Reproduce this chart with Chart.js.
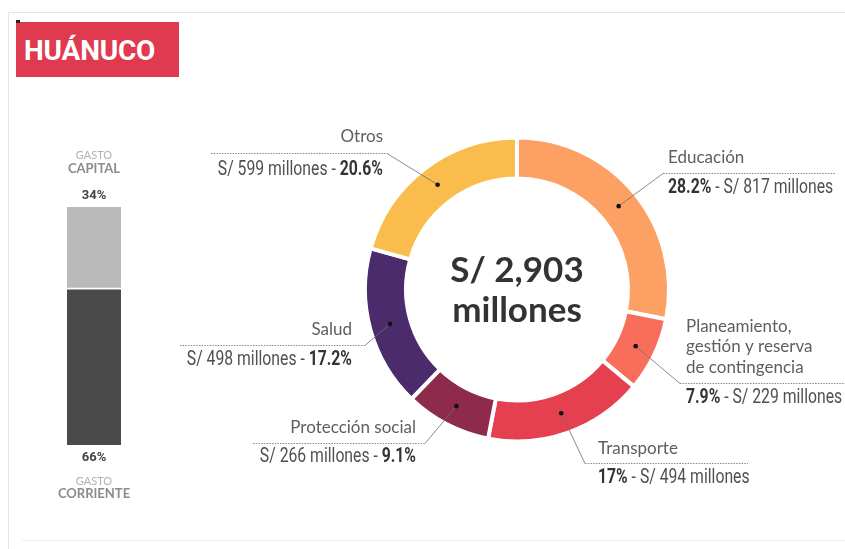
<!DOCTYPE html>
<html>
<head>
<meta charset="utf-8">
<script src="https://cdn.jsdelivr.net/npm/chart.js@4"></script>
<style>
  body { margin: 0; background: #fff; }
  #wrap { position: relative; width: 845px; height: 549px; overflow: hidden; }
  .frame { position: absolute; background: #e4e4e4; }
  #title {
    position: absolute; left: 16px; top: 22px; width: 163px; height: 55px;
    background: #e03a50; color: #fff; font: bold 28px Roboto, sans-serif;
    line-height: 57px; padding-left: 8px; box-sizing: border-box; letter-spacing: -0.2px;
  }
  #mark { position: absolute; left: 16px; top: 20px; width: 4px; height: 3px; background: #222; }
  canvas { position: absolute; left: 0; top: 0; }
</style>
</head>
<body>
<div id="wrap">
  <div class="frame" style="left:8px;top:12px;width:837px;height:1px"></div>
  <div class="frame" style="left:8px;top:12px;width:1px;height:537px"></div>
  <div class="frame" style="left:22px;top:540px;width:823px;height:1px;background:#efefef"></div>
  <div id="title">HUÁNUCO</div>
  <div id="mark"></div>
  <canvas id="barChart" width="130" height="370" style="left:30px;top:140px"></canvas>
  <canvas id="donutChart" width="845" height="549"></canvas>
</div>
<script>
// gasto por sector, en millones de soles
const sectores = ['Educación', 'Planeamiento,\ngestión y reserva\nde contingencia', 'Transporte', 'Protección social', 'Salud', 'Otros'];
const montos = [817, 229, 494, 266, 498, 599];
const porcentajes = [28.2, 7.9, 17, 9.1, 17.2, 20.6];
const colores = ['#fca064', '#f96e5b', '#e5404f', '#8e2a4b', '#4b2b6b', '#fabd4d'];
const totalMillones = '2,903';

// tipo de gasto (porcentaje)
const tipoGasto = ['GASTO\nCORRIENTE', 'GASTO\nCAPITAL'];
const tipoPct = [66, 34];
const tipoColores = ['#4a4a4a', '#bababa'];

// where each label block sits: text anchor, title baselines, dotted rule
const etiquetas = [
  { side: 'r', x: 668, titleY: [158], lineY: 173, x0: 663, x1: 836, valY: 188 },
  { side: 'r', x: 686, titleY: [327, 347, 368], lineY: 383, x0: 680, x1: 845, valY: 398 },
  { side: 'r', x: 598, titleY: [449], lineY: 463, x0: 585, x1: 748, valY: 478 },
  { side: 'l', x: 416, titleY: [428], lineY: 443, x0: 253, x1: 425, valY: 457 },
  { side: 'l', x: 352, titleY: [330], lineY: 345, x0: 180, x1: 365, valY: 360 },
  { side: 'l', x: 383, titleY: [137], lineY: 153, x0: 211, x1: 387, valY: 170 }
];

// narrow grotesque look: Roboto squeezed horizontally
function drawCondensed(ctx, parts, x, y, align) {
  const sx = 0.75;
  ctx.save();
  ctx.translate(x, y);
  ctx.scale(sx, 1);
  ctx.textBaseline = 'middle';
  ctx.textAlign = 'left';
  let total = 0;
  parts.forEach(p => {
    ctx.font = (p.bold ? 'bold ' : '') + '21px Roboto';
    p.w = ctx.measureText(p.t).width;
    total += p.w;
  });
  let cx = align === 'right' ? -total : 0;
  parts.forEach(p => {
    ctx.font = (p.bold ? 'bold ' : '') + '21px Roboto';
    ctx.fillStyle = p.bold ? '#333' : '#505050';
    ctx.fillText(p.t, cx, 0);
    cx += p.w;
  });
  ctx.restore();
}

const donutLabels = {
  id: 'donutLabels',
  afterDraw(chart) {
    const ctx = chart.ctx;
    const arcs = chart.getDatasetMeta(0).data;
    arcs.forEach((arc, i) => {
      const pos = arc.tooltipPosition();
      const e = etiquetas[i];
      const pctTxt = String(porcentajes[i]) + '%';
      const montoTxt = 'S/ ' + montos[i] + ' millones';

      // dotted rule under the title
      ctx.save();
      ctx.strokeStyle = '#8a8a8a';
      ctx.lineWidth = 1;
      ctx.setLineDash([1.5, 1.2]);
      ctx.beginPath();
      ctx.moveTo(e.x0, e.lineY + 0.5);
      ctx.lineTo(e.x1, e.lineY + 0.5);
      ctx.stroke();
      ctx.setLineDash([]);
      // leader from the rule to the slice
      const lx = e.side === 'r' ? e.x0 : e.x1;
      ctx.strokeStyle = '#6e6e6e';
      ctx.lineWidth = 0.8;
      ctx.beginPath();
      ctx.moveTo(lx, e.lineY + 0.5);
      ctx.lineTo(pos.x, pos.y);
      ctx.stroke();
      ctx.fillStyle = '#111';
      ctx.beginPath();
      ctx.arc(pos.x, pos.y, 2.3, 0, Math.PI * 2);
      ctx.fill();
      ctx.restore();

      // title
      ctx.save();
      ctx.font = '17px Lato';
      ctx.fillStyle = '#5e5e5e';
      ctx.textBaseline = 'middle';
      ctx.textAlign = e.side === 'r' ? 'left' : 'right';
      sectores[i].split('\n').forEach((t, k) => ctx.fillText(t, e.x, e.titleY[k]));
      ctx.restore();

      if (e.side === 'r') {
        drawCondensed(ctx, [{ t: pctTxt, bold: true }, { t: ' - ' + montoTxt }], e.x, e.valY, 'left');
      } else {
        drawCondensed(ctx, [{ t: montoTxt + ' - ' }, { t: pctTxt, bold: true }], e.x, e.valY, 'right');
      }
    });

    // total in the middle
    const c = arcs[0];
    ctx.save();
    ctx.fillStyle = '#333';
    ctx.textAlign = 'center';
    ctx.textBaseline = 'middle';
    ctx.font = 'bold 35px Lato';
    ctx.fillText('S/ ' + totalMillones, c.x, c.y - 19);
    ctx.fillText('millones', c.x, c.y + 21);
    ctx.restore();
  }
};

new Chart(document.getElementById('donutChart'), {
  type: 'doughnut',
  data: {
    labels: sectores,
    datasets: [{
      data: montos,
      backgroundColor: colores,
      borderColor: '#fff',
      borderWidth: 4
    }]
  },
  options: {
    responsive: false,
    animation: false,
    radius: 152,
    cutout: '73%',
    layout: { padding: { left: 367, right: 178, top: 140, bottom: 110 } },
    plugins: { legend: { display: false }, tooltip: { enabled: false } }
  },
  plugins: [donutLabels]
});

const barLabels = {
  id: 'barLabels',
  afterDraw(chart) {
    const ctx = chart.ctx;
    const area = chart.chartArea;
    const cx = (area.left + area.right) / 2;
    ctx.save();
    ctx.textAlign = 'center';
    ctx.textBaseline = 'middle';
    const cap = tipoGasto[1].split('\n');
    const cor = tipoGasto[0].split('\n');
    ctx.font = '11px Lato';
    ctx.fillStyle = '#b0b0b0';
    ctx.fillText(cap[0], cx, area.top - 52);
    ctx.fillText(cor[0], cx, area.bottom + 36);
    ctx.font = 'bold 13px Lato';
    ctx.fillStyle = '#8c8c8c';
    ctx.fillText(cap[1], cx, area.top - 38);
    ctx.fillText(cor[1], cx, area.bottom + 49);
    ctx.font = 'bold 13px Roboto';
    ctx.fillStyle = '#444';
    ctx.fillText(tipoPct[1] + '%', cx, area.top - 11);
    ctx.fillText(tipoPct[0] + '%', cx, area.bottom + 13);
    ctx.restore();
  }
};

new Chart(document.getElementById('barChart'), {
  type: 'bar',
  data: {
    labels: ['gasto'],
    datasets: [
      { label: tipoGasto[0], data: [tipoPct[0]], backgroundColor: tipoColores[0],
        borderColor: '#fff', borderWidth: { top: 2, left: 0, right: 0, bottom: 0 }, borderSkipped: false },
      { label: tipoGasto[1], data: [tipoPct[1]], backgroundColor: tipoColores[1], borderWidth: 0 }
    ]
  },
  options: {
    responsive: false,
    animation: false,
    layout: { padding: { left: 37, right: 39, top: 67, bottom: 65 } },
    datasets: { bar: { barPercentage: 1, categoryPercentage: 1 } },
    scales: {
      x: { display: false, stacked: true },
      y: { display: false, stacked: true, min: 0, max: 100 }
    },
    plugins: { legend: { display: false }, tooltip: { enabled: false } }
  },
  plugins: [barLabels]
});
</script>
</body>
</html>
